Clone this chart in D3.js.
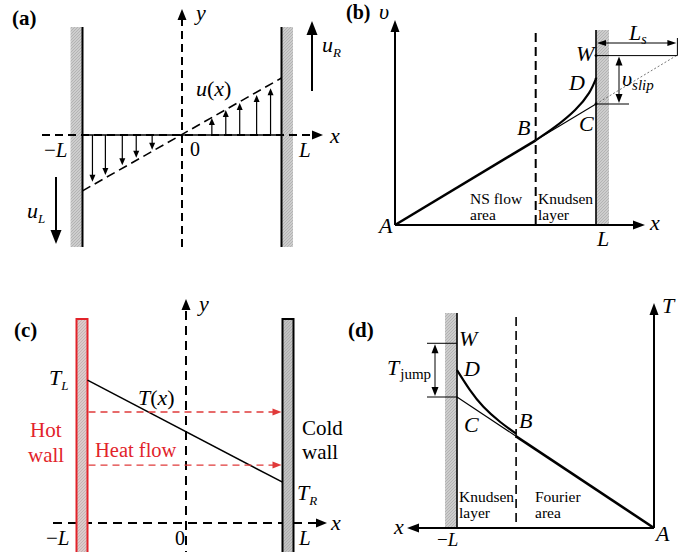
<!DOCTYPE html>
<html><head><meta charset="utf-8">
<script src="https://cdn.jsdelivr.net/npm/d3@7"></script>
<style>body{margin:0;background:#fff}svg{display:block}</style>
</head><body><svg id="c" width="685" height="552" font-family="Liberation Serif"></svg>
<script>
// ---------------- data ----------------
const panelLabels = ["(a)", "(b)", "(c)", "(d)"];
// (a) Couette flow: wall positions and velocity profile arrows (x in units of L, u in units of u_R)
const aWalls = [-1, 1];
const aDownX = [-0.90, -0.77, -0.60, -0.46, -0.30];
const aDownU = [-0.82, -0.70, -0.53, -0.40, -0.26];
const aUpX = [0.30, 0.44, 0.58, 0.75, 0.89];
const aUpU = [0.30, 0.44, 0.56, 0.70, 0.82];
const aProfile = [[-1, -0.98], [1, 1.0]];
const aTicks = ["\u2212L", "0", "L"];
// (b) velocity slip near the wall
const bKnudsenX = 0.70;
const bNS = [[0, 0], [0.70, 0.70]];          // A -> B
const bLinear = [[0.70, 0.70], [1, 1]];      // B -> C
const bCurve = [[0.70, 0.70], [0.796, 0.81], [0.896, 0.95], [0.965, 1.09], [1, 1.21]]; // B -> D
const bSlip = [[1, 1], [1.40, 1.40]];        // C -> extrapolated
const bW = 1.40, bLs = 0.40;
const bAreaLabels = [["NS flow", "area"], ["Knudsen", "layer"]];
// (c) heat conduction between walls
const cWalls = [-1, 1];
const cT = [[-1, 0.70], [1, 0.20]];
const cHeatFlow = [0.544, 0.284];
const cTicks = ["\u2212L", "0", "L"];
// (d) temperature jump near the wall
const dKnudsenX = -0.70;
const dFourier = [[0, 0], [-0.70, 0.70]];
const dLinear = [[-0.70, 0.70], [-1, 1]];
const dCurve = [[-0.70, 0.72], [-0.782, 0.811], [-0.866, 0.926], [-0.934, 1.053], [-1, 1.206]];
const dW = 1.41;
const dAreaLabels = [["Knudsen", "layer"], ["Fourier", "area"]];

// ---------------- helpers ----------------
const FONT = "Liberation Serif";
const svg = d3.select("#c");
const defs = svg.append("defs");
function hatch(id, base, ink) {
  const p = defs.append("pattern").attr("id", id).attr("patternUnits", "userSpaceOnUse").attr("width", 3).attr("height", 3);
  p.append("rect").attr("width", 3).attr("height", 3).attr("fill", base);
  p.append("path").attr("d", "M0,3L3,0").attr("stroke", ink).attr("stroke-width", 0.7);
}
hatch("hg", "#cdcdcd", "#a8a8a8");
hatch("hc", "#c2c2c2", "#a2a2a2");
hatch("hh", "#dccaca", "#bfa9a9");

function ln(g, x1, y1, x2, y2, o = {}) {
  return g.append("line").attr("x1", x1).attr("y1", y1).attr("x2", x2).attr("y2", y2)
    .attr("stroke", o.color || "#000").attr("stroke-width", o.w || 1.5)
    .attr("stroke-dasharray", o.dash || null);
}
function head(g, x, y, ang, len, wid, color) {
  const bx = x - len * Math.cos(ang), by = y - len * Math.sin(ang);
  const px = -Math.sin(ang) * wid / 2, py = Math.cos(ang) * wid / 2;
  g.append("path").attr("d", `M${x},${y}L${bx + px},${by + py}L${bx - px},${by - py}Z`).attr("fill", color || "#000");
}
function arrow(g, x1, y1, x2, y2, o = {}) {
  const ang = Math.atan2(y2 - y1, x2 - x1), len = o.len || 10;
  const s = o.both ? len * 0.8 : 0;
  ln(g, x1 + Math.cos(ang) * s, y1 + Math.sin(ang) * s, x2 - Math.cos(ang) * len * 0.8, y2 - Math.sin(ang) * len * 0.8, o);
  head(g, x2, y2, ang, len, o.wid || 8, o.color);
  if (o.both) head(g, x1, y1, ang + Math.PI, len, o.wid || 8, o.color);
}
function txt(g, x, y, s, o = {}) {
  return g.append("text").attr("x", x).attr("y", y).attr("font-family", FONT).attr("font-size", o.size || 20)
    .attr("font-style", o.it ? "italic" : null).attr("font-weight", o.b ? "bold" : null)
    .attr("fill", o.color || "#000").attr("text-anchor", o.anchor || "start").text(s);
}
function subTxt(g, x, y, main, sub, o = {}) {
  const t = g.append("text").attr("x", x).attr("y", y).attr("font-family", FONT).attr("font-size", o.size || 22).attr("fill", "#000");
  t.append("tspan").attr("font-style", "italic").text(main);
  t.append("tspan").attr("font-size", o.subSize || 14).attr("font-style", o.subIt === false ? null : "italic")
    .attr("dy", o.dy || 5).attr("dx", o.dx || 0).text(sub);
  return t;
}
function funcTxt(g, x, y, f, a, size) {
  const t = g.append("text").attr("x", x).attr("y", y).attr("font-family", FONT).attr("font-size", size || 22);
  t.append("tspan").attr("font-style", "italic").text(f);
  t.append("tspan").text("(");
  t.append("tspan").attr("font-style", "italic").text(a);
  t.append("tspan").text(")");
  return t;
}
function tickLabel(g, x, y, s, size) {
  const t = g.append("text").attr("x", x).attr("y", y).attr("font-family", FONT).attr("font-size", size || 20);
  if (s.startsWith("\u2212")) { t.append("tspan").text("\u2212"); t.append("tspan").attr("font-style", "italic").text(s.slice(1)); }
  else if (s === "0") t.text(s);
  else t.append("tspan").attr("font-style", "italic").text(s);
  return t;
}

// ---------------- panel (a) ----------------
{
  const g = svg.append("g");
  const x = d3.scaleLinear().domain([-1, 1]).range([82.5, 281.5]);
  const u = d3.scaleLinear().domain([0, 1]).range([135, 78]);
  aWalls.forEach(w => {
    const xw = x(w);
    g.append("rect").attr("x", w < 0 ? xw - 12 : xw).attr("y", 27).attr("width", 11.5).attr("height", 220).attr("fill", "url(#hg)");
    ln(g, xw, 27, xw, 247, { w: 2 });
  });
  arrow(g, x(0), 247, x(0), 9, { w: 2, dash: "8,5", len: 11, wid: 9 });
  txt(g, x(0) + 14, 20, "y", { it: true, size: 22 });
  ln(g, 42, u(0), 316, u(0), { w: 2, dash: "8,5" });
  head(g, 323, u(0), 0, 11, 9);
  ln(g, x(-1), u(0), x(1), u(0), { w: 1.6 });
  txt(g, 330, u(0) + 8, "x", { it: true, size: 22 });
  ln(g, x(aProfile[0][0]), u(aProfile[0][1]), x(aProfile[1][0]), u(aProfile[1][1]), { w: 1.6, dash: "9,5" });
  aDownX.forEach((v, i) => arrow(g, x(v), u(0), x(v), u(aDownU[i]), { w: 1.2, len: 7, wid: 6 }));
  aUpX.forEach((v, i) => arrow(g, x(v), u(0), x(v), u(aUpU[i]), { w: 1.2, len: 7, wid: 6 }));
  funcTxt(g, 196, 96, "u", "x", 22);
  arrow(g, 312, 91, 312, 21, { w: 2, len: 14, wid: 11 });
  subTxt(g, 322, 52, "u", "R", { size: 22, subSize: 13, dy: 5 });
  arrow(g, 56, 177, 56, 244, { w: 2, len: 14, wid: 11 });
  subTxt(g, 27, 218, "u", "L", { size: 22, subSize: 13, dy: 5 });
  tickLabel(g, 44, 157, aTicks[0], 21);
  tickLabel(g, 190, 156, aTicks[1], 20);
  tickLabel(g, 299, 157, aTicks[2], 21);
  txt(g, 12, 25, panelLabels[0], { b: true, size: 21 });
}

// ---------------- panel (b) ----------------
{
  const g = svg.append("g");
  const x = d3.scaleLinear().domain([0, 1]).range([395, 596]);
  const v = d3.scaleLinear().domain([0, 1]).range([225, 104]);
  g.append("rect").attr("x", x(1)).attr("y", 30).attr("width", 13).attr("height", 195).attr("fill", "url(#hg)");
  ln(g, x(1), 30, x(1), v(0), { w: 1.6 });
  ln(g, x(bKnudsenX), 33, x(bKnudsenX), v(0), { w: 2, dash: "9,5" });
  arrow(g, x(0), v(0), x(0), 20, { w: 2, len: 12, wid: 9 });
  arrow(g, x(0), v(0), 645, v(0), { w: 2, len: 12, wid: 9 });
  const L = d3.line().x(d => x(d[0])).y(d => v(d[1]));
  g.append("path").attr("d", L(bNS)).attr("stroke", "#000").attr("stroke-width", 2.6).attr("fill", "none");
  g.append("path").attr("d", L(bLinear)).attr("stroke", "#000").attr("stroke-width", 1.1).attr("fill", "none");
  g.append("path").attr("d", L.curve(d3.curveNatural)(bCurve)).attr("stroke", "#000").attr("stroke-width", 2.2).attr("fill", "none");
  g.append("path").attr("d", d3.line().x(d => x(d[0])).y(d => v(d[1]))(bSlip)).attr("stroke", "#666").attr("stroke-width", 0.9).attr("stroke-dasharray", "2,2").attr("fill", "none");
  ln(g, x(1), v(bW), x(1 + bLs) + 1, v(bW), { w: 1 });
  ln(g, x(1 + bLs) + 1, 38, x(1 + bLs) + 1, v(bW), { w: 1 });
  arrow(g, x(1) + 1, 43, x(1 + bLs), 43, { w: 1, both: true, len: 9, wid: 6 });
  ln(g, x(1), v(1), 629, v(1), { w: 1 });
  arrow(g, 619, v(bW) + 1, 619, v(1) - 1, { w: 1, both: true, len: 9, wid: 7 });
  g.append("circle").attr("cx", x(1)).attr("cy", v(bW)).attr("r", 1.4);
  g.append("circle").attr("cx", x(1)).attr("cy", v(1)).attr("r", 1.4);
  g.append("circle").attr("cx", x(1)).attr("cy", v(1.21)).attr("r", 1.2);
  txt(g, 346, 19, panelLabels[1], { b: true, size: 20 });
  txt(g, 379, 19, "\u03c5", { it: true, size: 22 });
  txt(g, 379, 233, "A", { it: true, size: 22 });
  txt(g, 650, 230, "x", { it: true, size: 22 });
  tickLabel(g, 597, 246, "L", 22);
  txt(g, 576, 61, "W", { it: true, size: 22 });
  txt(g, 569, 90, "D", { it: true, size: 22 });
  txt(g, 517, 135, "B", { it: true, size: 22 });
  txt(g, 579, 131, "C", { it: true, size: 22 });
  subTxt(g, 622, 86, "\u03c5", "slip", { size: 22, subSize: 15, dy: 4 });
  subTxt(g, 629, 40, "L", "s", { size: 22, subSize: 14, dy: 4 });
  txt(g, 470, 204, bAreaLabels[0][0], { size: 15.5 });
  txt(g, 470, 220, bAreaLabels[0][1], { size: 15.5 });
  txt(g, 538, 204, bAreaLabels[1][0], { size: 15.5 });
  txt(g, 538, 220, bAreaLabels[1][1], { size: 15.5 });
}

// ---------------- panel (c) ----------------
{
  const g = svg.append("g");
  const x = d3.scaleLinear().domain([-1, 1]).range([82, 288]);
  const t = d3.scaleLinear().domain([0, 1]).range([523, 319]);
  const hw = 5.5;
  const red = "#e2232a";
  arrow(g, 186, 560, 186, 299, { w: 2, dash: "9,6", len: 11, wid: 9 });
  txt(g, 199, 311, "y", { it: true, size: 22 });
  arrow(g, 53, t(0), 327, t(0), { w: 2, dash: "9,6", len: 11, wid: 9 });
  txt(g, 331, 530, "x", { it: true, size: 22 });
  g.append("rect").attr("x", x(-1) - hw).attr("y", 319).attr("width", 2 * hw).attr("height", 250).attr("fill", "url(#hh)").attr("stroke", red).attr("stroke-width", 2);
  g.append("rect").attr("x", x(1) - hw).attr("y", 319).attr("width", 2 * hw).attr("height", 250).attr("fill", "url(#hc)").attr("stroke", "#000").attr("stroke-width", 2);
  ln(g, x(cT[0][0]) + hw, t(cT[0][1]), x(cT[1][0]) - hw, t(cT[1][1]), { w: 1.5 });
  cHeatFlow.forEach(h => arrow(g, x(-1) + hw + 1, t(h), x(1) - hw - 1, t(h), { w: 1.3, dash: "7,5", color: "#e03a3a", len: 9, wid: 7 }));
  txt(g, 14, 337, panelLabels[2], { b: true, size: 21 });
  subTxt(g, 49, 385, "T", "L", { size: 22, subSize: 13, dy: 5 });
  subTxt(g, 297, 500, "T", "R", { size: 22, subSize: 13, dy: 5 });
  funcTxt(g, 138, 405, "T", "x", 22);
  txt(g, 30, 437, "Hot", { size: 21, color: red });
  txt(g, 28, 462, "wall", { size: 21, color: red });
  txt(g, 95, 457, "Heat flow", { size: 20.5, color: red });
  txt(g, 302, 435, "Cold", { size: 21 });
  txt(g, 302, 459, "wall", { size: 21 });
  tickLabel(g, 46, 545, cTicks[0], 21);
  tickLabel(g, 175, 545, cTicks[1], 20);
  tickLabel(g, 299, 545, cTicks[2], 21);
}

// ---------------- panel (d) ----------------
{
  const g = svg.append("g");
  const x = d3.scaleLinear().domain([-1, 0]).range([457, 654]);
  const T = d3.scaleLinear().domain([0, 1]).range([528, 397]);
  g.append("rect").attr("x", x(-1) - 12).attr("y", 313).attr("width", 12).attr("height", 215).attr("fill", "url(#hg)");
  ln(g, x(-1), 313, x(-1), T(0), { w: 1.6 });
  ln(g, x(dKnudsenX), 317, x(dKnudsenX), T(0), { w: 1.6, dash: "9,5" });
  arrow(g, x(0), T(0), x(0), 303, { w: 2, len: 12, wid: 9 });
  arrow(g, x(0), T(0), 407, T(0), { w: 2, len: 12, wid: 9 });
  const L = d3.line().x(d => x(d[0])).y(d => T(d[1]));
  g.append("path").attr("d", L(dFourier)).attr("stroke", "#000").attr("stroke-width", 2.6).attr("fill", "none");
  g.append("path").attr("d", L(dLinear)).attr("stroke", "#000").attr("stroke-width", 1.1).attr("fill", "none");
  g.append("path").attr("d", L.curve(d3.curveNatural)(dCurve)).attr("stroke", "#000").attr("stroke-width", 2.2).attr("fill", "none");
  ln(g, 427, T(dW), x(-1), T(dW), { w: 1 });
  ln(g, 427, T(1), x(-1), T(1), { w: 1 });
  arrow(g, 435, T(dW) + 1, 435, T(1) - 1, { w: 1, both: true, len: 9, wid: 7 });
  txt(g, 348, 337, panelLabels[3], { b: true, size: 21 });
  txt(g, 662, 313, "T", { it: true, size: 22 });
  txt(g, 394, 534, "x", { it: true, size: 22 });
  txt(g, 656, 541, "A", { it: true, size: 22 });
  tickLabel(g, 437, 546, "\u2212L", 19);
  txt(g, 459, 346, "W", { it: true, size: 22 });
  txt(g, 464, 376, "D", { it: true, size: 22 });
  txt(g, 464, 432, "C", { it: true, size: 22 });
  txt(g, 519, 428, "B", { it: true, size: 22 });
  subTxt(g, 387, 375, "T", "jump", { size: 22, subSize: 15, subIt: false, dy: 4, dx: 1 });
  txt(g, 459, 502, dAreaLabels[0][0], { size: 15.5 });
  txt(g, 459, 518, dAreaLabels[0][1], { size: 15.5 });
  txt(g, 535, 502, dAreaLabels[1][0], { size: 15.5 });
  txt(g, 535, 518, dAreaLabels[1][1], { size: 15.5 });
}
</script></body></html>
